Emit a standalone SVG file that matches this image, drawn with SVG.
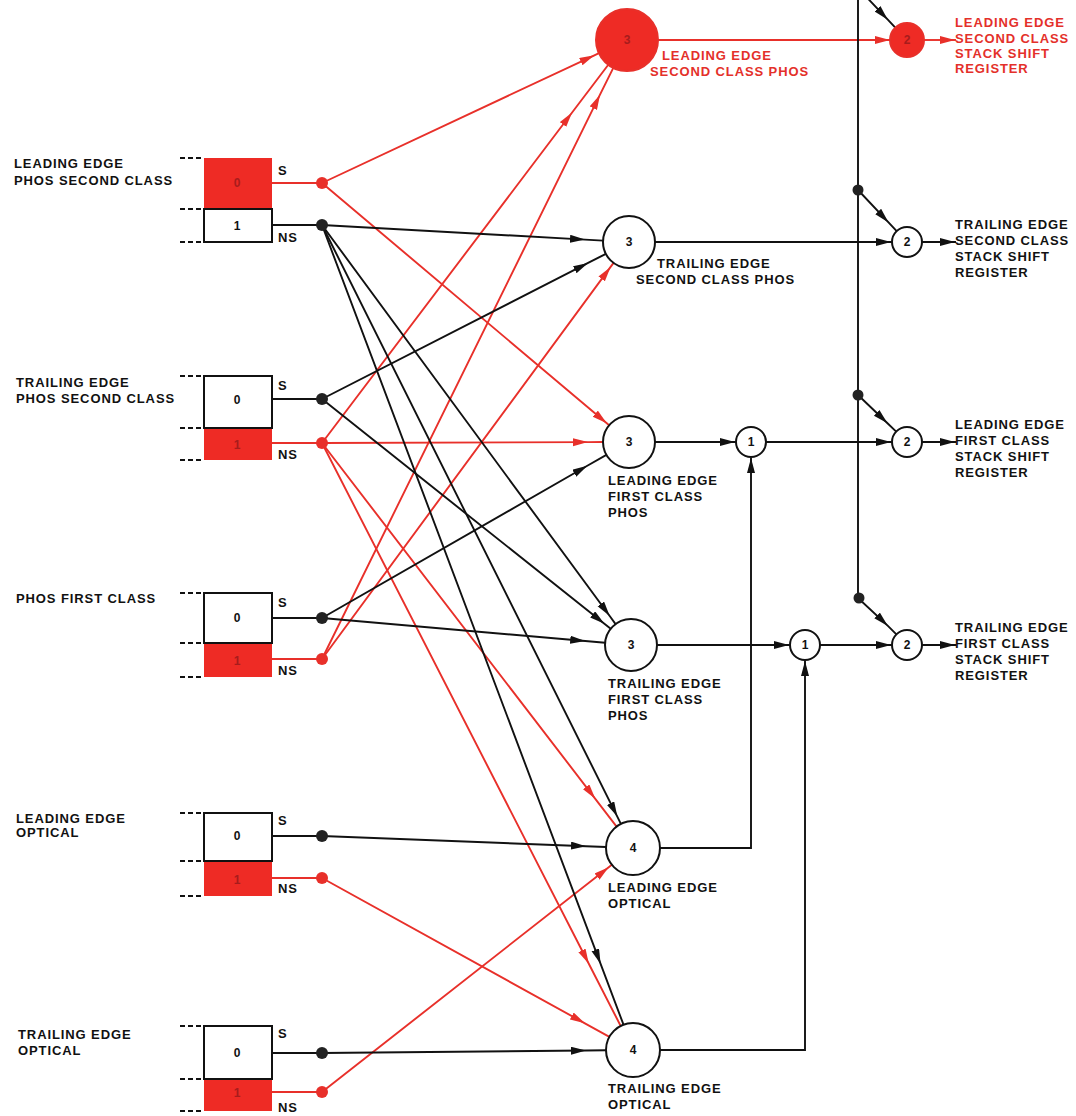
<svg xmlns="http://www.w3.org/2000/svg" width="1076" height="1116" viewBox="0 0 1076 1116">
<style>
text{font-family:"Liberation Sans",Arial,sans-serif;font-weight:bold;font-size:13px;letter-spacing:0.9px;fill:#111}
.red{fill:#e4302a}
.dig{font-size:12px;text-anchor:middle;dominant-baseline:central;letter-spacing:0}
.rdig{fill:#a81c1c}
.k{fill:none;stroke:#111;stroke-width:1.9}
.r{fill:none;stroke:#e8302a;stroke-width:1.9}
.ka{marker-mid:url(#ab)}
.ra{marker-mid:url(#ar)}
.kae{marker-end:url(#ab)}
.dash{stroke:#111;stroke-width:2;stroke-dasharray:5 3}
.cell{fill:#fff;stroke:#111;stroke-width:2}
.rcell{fill:#ee2b25}
.node{fill:#fff;stroke:#111;stroke-width:2}
.dk{fill:#222}
.dr{fill:#e8302a}
</style>
<defs>
<marker id="ab" markerUnits="userSpaceOnUse" markerWidth="16" markerHeight="9" refX="15" refY="4" orient="auto"><path d="M0,0 L15,4 L0,8 z" fill="#111"/></marker>
<marker id="ar" markerUnits="userSpaceOnUse" markerWidth="16" markerHeight="9" refX="15" refY="4" orient="auto"><path d="M0,0 L15,4 L0,8 z" fill="#e8302a"/></marker>
</defs>

<g id="connectors">
<!-- red -->
<polyline class="r ra" points="322,183 594.4,55.3 598.9,53.2"/>
<polyline class="r ra" points="322,183 606.8,423.3 609.1,425.2"/>
<polyline class="r ra" points="322,443 572.1,112.5 608.3,64.7"/>
<polyline class="r ra" points="322,659 600,94.7 613.3,67.8"/>
<polyline class="r ra" points="322,659 610.6,266.9 613.6,262.9"/>
<polyline class="r ra" points="322,443 588,442.1 603,442"/>
<polyline class="r ra" points="322,443 595.3,798.8 616.6,826.6"/>
<polyline class="r ra" points="322,443 588.8,963.7 620.7,1026"/>
<polyline class="r ra" points="322,878 584.9,1023.3 609.4,1036.9"/>
<polyline class="r ra" points="322,1092 608.7,867.2 611.8,864.7"/>
<polyline class="r ra" points="658,40 890,40 891,40"/>
<polyline class="r ra" points="924,40 955,40 956,40"/>
<!-- black -->
<polyline class="k ka" points="322,225 585,239.6 603,240.6"/>
<polyline class="k ka" points="322,225 609.7,616 615.6,624.1"/>
<polyline class="k ka" points="322,225 617.3,816.6 620.9,823.8"/>
<polyline class="k ka" points="322,225 600.6,963.9 623.5,1024.7"/>
<polyline class="k ka" points="322,399 588.1,262.9 605.9,253.8"/>
<polyline class="k ka" points="322,399 604.4,623.8 610.7,628.8"/>
<polyline class="k ka" points="322,618 587.3,465.8 606.4,454.9"/>
<polyline class="k ka" points="322,618 585.2,641 605.1,642.7"/>
<polyline class="k ka" points="322,836 586,846.2 606,847"/>
<polyline class="k ka" points="322,1053 586,1050.5 606,1050.3"/>
<polyline class="k ka" points="655,442 735,442 736,442"/>
<polyline class="k ka" points="766,442 891,442 892,442"/>
<polyline class="k ka" points="655,242 891,242 892,242"/>
<polyline class="k ka" points="657,645 789,645 790,645"/>
<polyline class="k ka" points="820,645 891,645 892,645"/>
<path class="k" d="M660,848 H751 V500"/>
<polyline class="k kae" points="751,500 751,458"/>
<path class="k" d="M660,1050 H805 V700"/>
<polyline class="k kae" points="805,700 805,661"/>
<line class="k" x1="858" y1="0" x2="858" y2="598"/>
<polyline class="k ka" points="858,-12 887.8,19.7 896,28.4"/>
<polyline class="k ka" points="858,190 888.5,222.4 896.7,231.1"/>
<polyline class="k ka" points="858,395 887.5,423.3 896.2,431.6"/>
<polyline class="k ka" points="858,598 887.9,625.9 896.4,634.4"/>
<polyline class="k ka" points="922,242 955,242 956,242"/>
<polyline class="k ka" points="922,442 955,442 956,442"/>
<polyline class="k ka" points="922,645 955,645 956,645"/>
<!-- register outputs -->
<line class="r" x1="272" y1="183" x2="322" y2="183"/>
<line class="k" x1="272" y1="225" x2="322" y2="225"/>
<line class="k" x1="272" y1="399" x2="322" y2="399"/>
<line class="r" x1="272" y1="443" x2="322" y2="443"/>
<line class="k" x1="272" y1="618" x2="322" y2="618"/>
<line class="r" x1="272" y1="659" x2="322" y2="659"/>
<line class="k" x1="272" y1="836" x2="322" y2="836"/>
<line class="r" x1="272" y1="878" x2="322" y2="878"/>
<line class="k" x1="272" y1="1053" x2="322" y2="1053"/>
<line class="r" x1="272" y1="1092" x2="322" y2="1092"/>
<!-- junction dots -->
<circle class="dr" cx="322" cy="183" r="6"/>
<circle class="dk" cx="322" cy="225" r="6"/>
<circle class="dk" cx="322" cy="399" r="6"/>
<circle class="dr" cx="322" cy="443" r="6"/>
<circle class="dk" cx="322" cy="618" r="6"/>
<circle class="dr" cx="322" cy="659" r="6"/>
<circle class="dk" cx="322" cy="836" r="6"/>
<circle class="dr" cx="322" cy="878" r="6"/>
<circle class="dk" cx="322" cy="1053" r="6"/>
<circle class="dr" cx="322" cy="1092" r="6"/>
<circle class="dk" cx="858" cy="190" r="5.5"/>
<circle class="dk" cx="858" cy="395" r="5.5"/>
<circle class="dk" cx="859" cy="598" r="5.5"/>
</g>

<g id="reg-le-phos-second">
<line class="dash" x1="180" y1="158" x2="204" y2="158"/>
<line class="dash" x1="180" y1="209" x2="204" y2="209"/>
<line class="dash" x1="180" y1="242" x2="204" y2="242"/>
<rect class="rcell" x="204" y="158" width="68" height="51"/>
<rect class="cell" x="204" y="209" width="68" height="33"/>
<text class="dig rdig" x="237" y="183">0</text>
<text class="dig" x="237" y="226">1</text>
<text x="278" y="175">S</text>
<text x="278" y="242">NS</text>
<text x="14" y="168">LEADING EDGE</text>
<text x="14" y="185">PHOS SECOND CLASS</text>
</g>

<g id="reg-te-phos-second">
<line class="dash" x1="180" y1="376" x2="204" y2="376"/>
<line class="dash" x1="180" y1="428" x2="204" y2="428"/>
<line class="dash" x1="180" y1="460" x2="204" y2="460"/>
<rect class="rcell" x="204" y="428" width="68" height="32"/>
<rect class="cell" x="204" y="376" width="68" height="52"/>
<text class="dig" x="237" y="400">0</text>
<text class="dig rdig" x="237" y="445">1</text>
<text x="278" y="390">S</text>
<text x="278" y="459">NS</text>
<text x="16" y="387">TRAILING EDGE</text>
<text x="16" y="403">PHOS SECOND CLASS</text>
</g>

<g id="reg-phos-first">
<line class="dash" x1="180" y1="593" x2="204" y2="593"/>
<line class="dash" x1="180" y1="643" x2="204" y2="643"/>
<line class="dash" x1="180" y1="677" x2="204" y2="677"/>
<rect class="rcell" x="204" y="643" width="68" height="34"/>
<rect class="cell" x="204" y="593" width="68" height="50"/>
<text class="dig" x="237" y="618">0</text>
<text class="dig rdig" x="237" y="661">1</text>
<text x="278" y="607">S</text>
<text x="278" y="675">NS</text>
<text x="16" y="603">PHOS FIRST CLASS</text>
</g>

<g id="reg-le-optical">
<line class="dash" x1="180" y1="813" x2="204" y2="813"/>
<line class="dash" x1="180" y1="861" x2="204" y2="861"/>
<line class="dash" x1="180" y1="896" x2="204" y2="896"/>
<rect class="rcell" x="204" y="861" width="68" height="35"/>
<rect class="cell" x="204" y="813" width="68" height="48"/>
<text class="dig" x="237" y="836">0</text>
<text class="dig rdig" x="237" y="880">1</text>
<text x="278" y="825">S</text>
<text x="278" y="893">NS</text>
<text x="16" y="823">LEADING EDGE</text>
<text x="16" y="837">OPTICAL</text>
</g>

<g id="reg-te-optical">
<line class="dash" x1="180" y1="1026" x2="204" y2="1026"/>
<line class="dash" x1="180" y1="1079" x2="204" y2="1079"/>
<line class="dash" x1="180" y1="1111" x2="204" y2="1111"/>
<rect class="rcell" x="204" y="1079" width="68" height="32"/>
<rect class="cell" x="204" y="1026" width="68" height="53"/>
<text class="dig" x="237" y="1053">0</text>
<text class="dig rdig" x="237" y="1093">1</text>
<text x="278" y="1038">S</text>
<text x="278" y="1112">NS</text>
<text x="18" y="1039">TRAILING EDGE</text>
<text x="18" y="1055">OPTICAL</text>
</g>

<g id="node-le-second-phos">
<circle cx="627" cy="40" r="31" fill="#ee2b25" stroke="#e8302a" stroke-width="2"/>
<text class="dig rdig" x="627" y="40">3</text>
<text class="red" x="662" y="60">LEADING EDGE</text>
<text class="red" x="650" y="76">SECOND CLASS PHOS</text>
</g>

<g id="node-te-second-phos">
<circle class="node" cx="629" cy="242" r="26"/>
<text class="dig" x="629" y="242">3</text>
<text x="657" y="268">TRAILING EDGE</text>
<text x="636" y="284">SECOND CLASS PHOS</text>
</g>

<g id="node-le-first-phos">
<circle class="node" cx="629" cy="442" r="26"/>
<text class="dig" x="629" y="442">3</text>
<text x="608" y="485">LEADING EDGE</text>
<text x="608" y="501">FIRST CLASS</text>
<text x="608" y="517">PHOS</text>
</g>

<g id="node-te-first-phos">
<circle class="node" cx="631" cy="645" r="26"/>
<text class="dig" x="631" y="645">3</text>
<text x="608" y="688">TRAILING EDGE</text>
<text x="608" y="704">FIRST CLASS</text>
<text x="608" y="720">PHOS</text>
</g>

<g id="node-le-optical">
<circle class="node" cx="633" cy="848" r="27"/>
<text class="dig" x="633" y="848">4</text>
<text x="608" y="892">LEADING EDGE</text>
<text x="608" y="908">OPTICAL</text>
</g>

<g id="node-te-optical">
<circle class="node" cx="633" cy="1050" r="27"/>
<text class="dig" x="633" y="1050">4</text>
<text x="608" y="1093">TRAILING EDGE</text>
<text x="608" y="1109">OPTICAL</text>
</g>

<g id="node-or-1a">
<circle class="node" cx="751" cy="442" r="15"/>
<text class="dig" x="751" y="442">1</text>
</g>

<g id="node-or-1b">
<circle class="node" cx="805" cy="645" r="15"/>
<text class="dig" x="805" y="645">1</text>
</g>

<g id="node-sr-le-second">
<circle cx="907" cy="40" r="17" fill="#ee2b25" stroke="#e8302a" stroke-width="2"/>
<text class="dig rdig" x="907" y="40">2</text>
<text class="red" x="955" y="27">LEADING EDGE</text>
<text class="red" x="955" y="43">SECOND CLASS</text>
<text class="red" x="955" y="58">STACK SHIFT</text>
<text class="red" x="955" y="73">REGISTER</text>
</g>

<g id="node-sr-te-second">
<circle class="node" cx="907" cy="242" r="15"/>
<text class="dig" x="907" y="242">2</text>
<text x="955" y="229">TRAILING EDGE</text>
<text x="955" y="245">SECOND CLASS</text>
<text x="955" y="261">STACK SHIFT</text>
<text x="955" y="277">REGISTER</text>
</g>

<g id="node-sr-le-first">
<circle class="node" cx="907" cy="442" r="15"/>
<text class="dig" x="907" y="442">2</text>
<text x="955" y="429">LEADING EDGE</text>
<text x="955" y="445">FIRST CLASS</text>
<text x="955" y="461">STACK SHIFT</text>
<text x="955" y="477">REGISTER</text>
</g>

<g id="node-sr-te-first">
<circle class="node" cx="907" cy="645" r="15"/>
<text class="dig" x="907" y="645">2</text>
<text x="955" y="632">TRAILING EDGE</text>
<text x="955" y="648">FIRST CLASS</text>
<text x="955" y="664">STACK SHIFT</text>
<text x="955" y="680">REGISTER</text>
</g>
</svg>
